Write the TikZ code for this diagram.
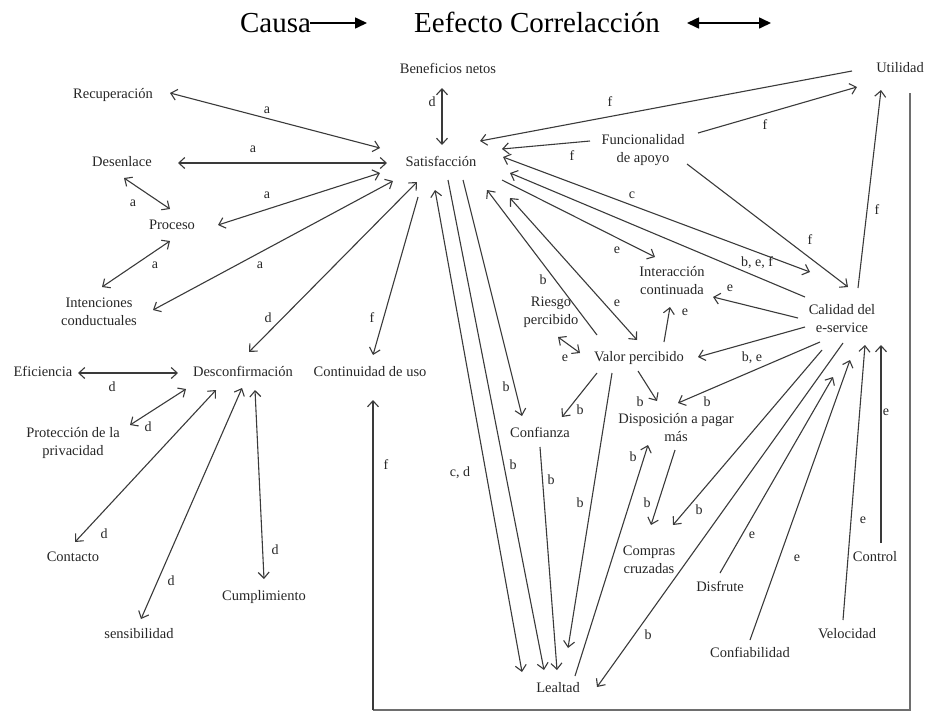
\documentclass[tikz,border=0pt]{standalone}
\usepackage{fontspec}
\setmainfont{Liberation Serif}
\usetikzlibrary{arrows.meta,calc}
\definecolor{ink}{HTML}{262626}
\definecolor{wire}{HTML}{3A3A3A}
\definecolor{framegray}{HTML}{6E6E6E}

\tikzset{
  concept/.style={inner sep=0pt, text=ink, font=\fontsize{14.5}{18}\selectfont,
    text height=10.5pt, text depth=3.5pt},
  concepttwo/.style={inner sep=0pt, align=center, text=ink, font=\fontsize{14.5}{18}\selectfont},
  lbl/.style={inner sep=0pt, text=ink, font=\fontsize{14}{16}\selectfont},
  legendtext/.style={inner sep=0pt, text=black, font=\fontsize{29}{32}\selectfont, anchor=base},
  barb/.tip={Straight Barb[length=6pt,width=11pt]},
  link/.style={draw=wire, line width=1.1pt, -barb},
  biLink/.style={draw=wire, line width=1.1pt, barb-barb},
  legendArrow/.style={draw=black, line width=1.6pt, -{Triangle[length=12pt,width=11pt]}},
  legendBi/.style={draw=black, line width=1.6pt, {Triangle[length=12pt,width=11pt]}-{Triangle[length=12pt,width=11pt]}},
  loopline/.style={draw=framegray, line width=1.4pt},
}

\begin{document}
\begin{tikzpicture}[x=1pt,y=-1pt]
\useasboundingbox (0,0) rectangle (928,713);

% legend
\node[legendtext] (causa) at (275.5,32) {Causa};
\node[legendtext] (efecto) at (537,32) {Eefecto Correlacción};
\coordinate (causaStart) at (310,23);
\coordinate (causaEnd) at (367,23);
\coordinate (dblA) at (687,23);
\coordinate (dblB) at (771,23);
\draw[legendArrow] (causaStart) -- (causaEnd);
\draw[legendBi] (dblA) -- (dblB);

% concepts
\node[concept] (ben) at (448,70) {Beneficios netos};
\node[concept] (uti) at (900,69) {Utilidad};
\node[concept] (rec) at (113,95) {Recuperación};
\node[concept] (des) at (122,163) {Desenlace};
\node[concept] (sat) at (441,163) {Satisfacción};
\node[concepttwo] (fun) at (643,150) {Funcionalidad\\de apoyo};
\node[concept] (pro) at (172,226) {Proceso};
\node[concepttwo] (int) at (99,312) {Intenciones\\conductuales};
\node[concepttwo] (ict) at (672,281) {Interacción\\continuada};
\node[concepttwo] (rie) at (551,312) {Riesgo\\percibido};
\node[concepttwo] (cal) at (842,319) {Calidad del\\e-service};
\node[concept] (val) at (639,358) {Valor percibido};
\node[concept] (efi) at (43,373) {Eficiencia};
\node[concept] (dcf) at (243,373) {Desconfirmación};
\node[concept] (con) at (370,373) {Continuidad de uso};
\node[concepttwo] (dis) at (676,428) {Disposición a pagar\\más};
\node[concept] (cnf) at (540,434) {Confianza};
\node[concepttwo] (prt) at (73,443) {Protección de la\\privacidad};
\node[concepttwo] (cmp) at (649,560) {Compras\\cruzadas};
\node[concept] (ctc) at (73,558) {Contacto};
\node[concept] (ctl) at (875,558) {Control};
\node[concept] (dfr) at (720,588) {Disfrute};
\node[concept] (cum) at (264,597) {Cumplimiento};
\node[concept] (sen) at (139,635) {sensibilidad};
\node[concept] (vel) at (847,635) {Velocidad};
\node[concept] (cfb) at (750,654) {Confiabilidad};
\node[concept] (lea) at (558,689) {Lealtad};

% links around Satisfacción (left side)
\draw[biLink] ($(rec)+(57,-2)$) -- ($(sat)+(-61,-15)$);
\draw[biLink] ($(des)+(56,0)$) -- ($(sat)+(-54,0)$);
\draw[biLink] ($(des)+(2,15)$) -- ($(pro)+(-2,-17)$);
\draw[biLink] ($(pro)+(46,-1)$) -- ($(sat)+(-61,10)$);
\draw[biLink] ($(pro)+(-2,15)$) -- ($(int)+(3,-25)$);
\draw[biLink] ($(int)+(54,-2)$) -- ($(sat)+(-48,18)$);
\draw[biLink] ($(ben)+(-6,18)$) -- ($(sat)+(1,-18)$);
\draw[biLink] ($(sat)+(-24,19)$) -- ($(dcf)+(6,-21)$);
\draw[link] ($(sat)+(-23,34)$) -- ($(con)+(3,-18)$);

% Desconfirmación group
\draw[biLink] ($(efi)+(35,0)$) -- ($(dcf)+(-65,0)$);
\draw[biLink] ($(prt)+(57,-18)$) -- ($(dcf)+(-57,16)$);
\draw[biLink] ($(ctc)+(2,-16)$) -- ($(dcf)+(-27,17)$);
\draw[biLink] ($(sen)+(2,-16)$) -- ($(dcf)+(-1,15)$);
\draw[biLink] ($(cum)+(0,-18)$) -- ($(dcf)+(12,17)$);

% right side
\draw[link] ($(uti)+(-48,2)$) -- ($(sat)+(39,-22)$);
\draw[link] ($(fun)+(-53,-9)$) -- ($(sat)+(61,-14)$);
\draw[link] ($(fun)+(55,-17)$) -- ($(uti)+(-43,18)$);
\draw[link] ($(fun)+(44,14)$) -- ($(cal)+(6,-32)$);
\draw[link] ($(cal)+(16,-31)$) -- ($(uti)+(-19,21)$);
\draw[biLink] ($(sat)+(62,-6)$) -- ($(cal)+(-32,-47)$);
\draw[link] ($(cal)+(-37,-22)$) -- ($(sat)+(69,10)$);
\draw[link] ($(sat)+(61,17)$) -- ($(ict)+(-17,-24)$);
\draw[biLink] ($(sat)+(69,35)$) -- ($(val)+(-2,-18)$);
\draw[link] ($(rie)+(46,23)$) -- ($(sat)+(46,27)$);
\draw[biLink] ($(rie)+(7,25)$) -- ($(val)+(-59,-5)$);
\draw[link] ($(val)+(25,-16)$) -- ($(ict)+(-2,26)$);
\draw[link] ($(cal)+(-44,-1)$) -- ($(ict)+(41,16)$);
\draw[link] ($(cal)+(-37,8)$) -- ($(val)+(59,-1)$);
\draw[link] ($(cal)+(-22,23)$) -- ($(dis)+(2,-25)$);
\draw[link] ($(val)+(-1,13)$) -- ($(dis)+(-19,-27)$);
\draw[link] ($(val)+(-42,15)$) -- ($(cnf)+(22,-17)$);
\draw[link] ($(sat)+(22,17)$) -- ($(cnf)+(-18,-18)$);

% links into Lealtad
\draw[biLink] ($(sat)+(-6,27)$) -- ($(lea)+(-36,-17)$);
\draw[link] ($(sat)+(7,17)$) -- ($(lea)+(-14,-19)$);
\draw[link] ($(cnf)+(0,13)$) -- ($(lea)+(-1,-19)$);
\draw[link] ($(val)+(-27,15)$) -- ($(lea)+(10,-41)$);
\draw[link] ($(lea)+(17,-13)$) -- ($(dis)+(-28,17)$);
\draw[link] ($(cal)+(1,24)$) -- ($(lea)+(39,-2)$);

% Compras cruzadas and the antecedents of Calidad
\draw[link] ($(dis)+(-1,22)$) -- ($(cmp)+(2,-35)$);
\draw[link] ($(cal)+(-20,31)$) -- ($(cmp)+(24,-35)$);
\draw[link] ($(dfr)+(0,-15)$) -- ($(cal)+(-9,58)$);
\draw[link] ($(cfb)+(0,-14)$) -- ($(cal)+(8,41)$);
\draw[link] ($(vel)+(-4,-15)$) -- ($(cal)+(23,26)$);
\draw[link] ($(ctl)+(6,-15)$) -- ($(cal)+(39,26)$);

% feedback loop from Utilidad to Continuidad de uso
\coordinate (loopTop) at ($(uti)+(10,24)$);
\coordinate (loopR) at (910,710);
\coordinate (loopL) at (373,710);
\draw[loopline] (loopTop) -- (loopR) -- (loopL);
\draw[link] (loopL) -- ($(con)+(3,27)$);

% link labels
\node[lbl] (la1) at (267,110) {a};
\node[lbl] (la2) at (253,149) {a};
\node[lbl] (la3) at (133,203) {a};
\node[lbl] (la4) at (267,195) {a};
\node[lbl] (la5) at (155,265) {a};
\node[lbl] (la6) at (260,265) {a};
\node[lbl] (ld1) at (432,102) {d};
\node[lbl] (ld2) at (268,318) {d};
\node[lbl] (ld3) at (112,387) {d};
\node[lbl] (ld4) at (148,427) {d};
\node[lbl] (ld5) at (104,534) {d};
\node[lbl] (ld6) at (171,581) {d};
\node[lbl] (ld7) at (275,550) {d};
\node[lbl] (lf1) at (372,318) {f};
\node[lbl] (lf2) at (386,465) {f};
\node[lbl] (lf3) at (610,102) {f};
\node[lbl] (lf4) at (572,156) {f};
\node[lbl] (lf5) at (765,125) {f};
\node[lbl] (lf6) at (810,240) {f};
\node[lbl] (lf7) at (877,210) {f};
\node[lbl] (lc1) at (632,195) {c};
\node[lbl] (lbef) at (757,263) {b, e, f};
\node[lbl] (le1) at (617,250) {e};
\node[lbl] (le2) at (617,303) {e};
\node[lbl] (le3) at (565,358) {e};
\node[lbl] (le4) at (685,312) {e};
\node[lbl] (le5) at (730,288) {e};
\node[lbl] (lb1) at (543,280) {b};
\node[lbl] (lbe) at (752,358) {b, e};
\node[lbl] (lb2) at (707,402) {b};
\node[lbl] (lb3) at (640,402) {b};
\node[lbl] (lb4) at (580,410) {b};
\node[lbl] (lb5) at (506,387) {b};
\node[lbl] (lb6) at (513,465) {b};
\node[lbl] (lb7) at (551,480) {b};
\node[lbl] (lb8) at (580,503) {b};
\node[lbl] (lb9) at (633,457) {b};
\node[lbl] (lb10) at (648,635) {b};
\node[lbl] (lb11) at (647,503) {b};
\node[lbl] (lb12) at (699,510) {b};
\node[lbl] (lcd) at (460,473) {c, d};
\node[lbl] (le6) at (752,535) {e};
\node[lbl] (le7) at (797,558) {e};
\node[lbl] (le8) at (863,520) {e};
\node[lbl] (le9) at (886,412) {e};
\end{tikzpicture}
\end{document}
